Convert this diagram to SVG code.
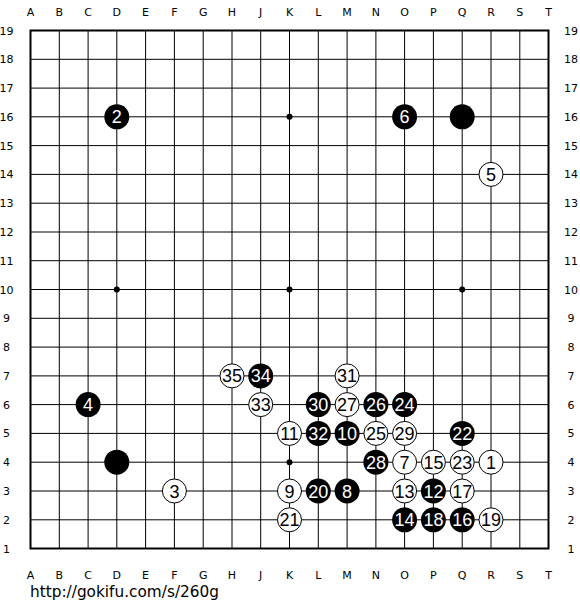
<svg xmlns="http://www.w3.org/2000/svg" width="580" height="610" viewBox="0 0 580 610">
<style>
.ln{stroke:#000;stroke-width:1;fill:none}
.bd{stroke:#000;stroke-width:2;fill:none}
.lbl{font-family:"DejaVu Sans","Liberation Sans",sans-serif;font-size:11px;fill:#000;text-anchor:middle}
.b{fill:#000}
.w{fill:#fff;stroke:#000;stroke-width:1}
.nb{font-family:"Liberation Sans",Arial,sans-serif;font-size:18px;fill:#fff;text-anchor:middle}
.nw{font-family:"Liberation Sans",Arial,sans-serif;font-size:18px;fill:#000;text-anchor:middle}
.url{font-family:"DejaVu Sans","Liberation Sans",sans-serif;font-size:15px;fill:#000}
</style>
<rect width="580" height="610" fill="#fff"/>
<g id="grid">
<path class="ln" d="M30.5 59.3H548.5M30.5 88.1H548.5M30.5 116.8H548.5M30.5 145.6H548.5M30.5 174.4H548.5M30.5 203.2H548.5M30.5 232H548.5M30.5 260.7H548.5M30.5 289.5H548.5M30.5 318.3H548.5M30.5 347.1H548.5M30.5 375.9H548.5M30.5 404.6H548.5M30.5 433.4H548.5M30.5 462.2H548.5M30.5 491H548.5M30.5 519.8H548.5"/>
<path class="ln" d="M59.3 30.5V548.5M88.1 30.5V548.5M116.8 30.5V548.5M145.6 30.5V548.5M174.4 30.5V548.5M203.2 30.5V548.5M232 30.5V548.5M260.7 30.5V548.5M289.5 30.5V548.5M318.3 30.5V548.5M347.1 30.5V548.5M375.9 30.5V548.5M404.6 30.5V548.5M433.4 30.5V548.5M462.2 30.5V548.5M491 30.5V548.5M519.8 30.5V548.5"/>
<rect class="bd" x="30.5" y="30.5" width="518" height="518"/>
<g fill="#000">
<circle cx="289.5" cy="116.8" r="3"/>
<circle cx="116.8" cy="289.5" r="3"/>
<circle cx="289.5" cy="289.5" r="3"/>
<circle cx="462.2" cy="289.5" r="3"/>
<circle cx="289.5" cy="462.2" r="3"/>
</g>
</g>
<g id="labels">
<text class="lbl" x="30.5" y="16">A</text><text class="lbl" x="59.3" y="16">B</text><text class="lbl" x="88.1" y="16">C</text><text class="lbl" x="116.8" y="16">D</text><text class="lbl" x="145.6" y="16">E</text><text class="lbl" x="174.4" y="16">F</text><text class="lbl" x="203.2" y="16">G</text><text class="lbl" x="232" y="16">H</text><text class="lbl" x="260.7" y="16">J</text><text class="lbl" x="289.5" y="16">K</text><text class="lbl" x="318.3" y="16">L</text><text class="lbl" x="347.1" y="16">M</text><text class="lbl" x="375.9" y="16">N</text><text class="lbl" x="404.6" y="16">O</text><text class="lbl" x="433.4" y="16">P</text><text class="lbl" x="462.2" y="16">Q</text><text class="lbl" x="491" y="16">R</text><text class="lbl" x="519.8" y="16">S</text><text class="lbl" x="548.5" y="16">T</text>
<text class="lbl" x="30.5" y="579">A</text><text class="lbl" x="59.3" y="579">B</text><text class="lbl" x="88.1" y="579">C</text><text class="lbl" x="116.8" y="579">D</text><text class="lbl" x="145.6" y="579">E</text><text class="lbl" x="174.4" y="579">F</text><text class="lbl" x="203.2" y="579">G</text><text class="lbl" x="232" y="579">H</text><text class="lbl" x="260.7" y="579">J</text><text class="lbl" x="289.5" y="579">K</text><text class="lbl" x="318.3" y="579">L</text><text class="lbl" x="347.1" y="579">M</text><text class="lbl" x="375.9" y="579">N</text><text class="lbl" x="404.6" y="579">O</text><text class="lbl" x="433.4" y="579">P</text><text class="lbl" x="462.2" y="579">Q</text><text class="lbl" x="491" y="579">R</text><text class="lbl" x="519.8" y="579">S</text><text class="lbl" x="548.5" y="579">T</text>
<text class="lbl" x="6.5" y="34.5">19</text><text class="lbl" x="6.5" y="63.3">18</text><text class="lbl" x="6.5" y="92.1">17</text><text class="lbl" x="6.5" y="120.8">16</text><text class="lbl" x="6.5" y="149.6">15</text><text class="lbl" x="6.5" y="178.4">14</text><text class="lbl" x="6.5" y="207.2">13</text><text class="lbl" x="6.5" y="236">12</text><text class="lbl" x="6.5" y="264.7">11</text><text class="lbl" x="6.5" y="293.5">10</text><text class="lbl" x="6.5" y="322.3">9</text><text class="lbl" x="6.5" y="351.1">8</text><text class="lbl" x="6.5" y="379.9">7</text><text class="lbl" x="6.5" y="408.6">6</text><text class="lbl" x="6.5" y="437.4">5</text><text class="lbl" x="6.5" y="466.2">4</text><text class="lbl" x="6.5" y="495">3</text><text class="lbl" x="6.5" y="523.8">2</text><text class="lbl" x="6.5" y="552.5">1</text>
<text class="lbl" x="571" y="34.5">19</text><text class="lbl" x="571" y="63.3">18</text><text class="lbl" x="571" y="92.1">17</text><text class="lbl" x="571" y="120.8">16</text><text class="lbl" x="571" y="149.6">15</text><text class="lbl" x="571" y="178.4">14</text><text class="lbl" x="571" y="207.2">13</text><text class="lbl" x="571" y="236">12</text><text class="lbl" x="571" y="264.7">11</text><text class="lbl" x="571" y="293.5">10</text><text class="lbl" x="571" y="322.3">9</text><text class="lbl" x="571" y="351.1">8</text><text class="lbl" x="571" y="379.9">7</text><text class="lbl" x="571" y="408.6">6</text><text class="lbl" x="571" y="437.4">5</text><text class="lbl" x="571" y="466.2">4</text><text class="lbl" x="571" y="495">3</text><text class="lbl" x="571" y="523.8">2</text><text class="lbl" x="571" y="552.5">1</text>
</g>
<g id="stones">
<g id="D16"><circle class="b" cx="116.8" cy="116.8" r="12.5"/><text class="nb" x="116.8" y="123.3">2</text></g>
<g id="O16"><circle class="b" cx="404.6" cy="116.8" r="12.5"/><text class="nb" x="404.6" y="123.3">6</text></g>
<g id="Q16"><circle class="b" cx="462.2" cy="116.8" r="12.5"/></g>
<g id="R14"><circle class="w" cx="491" cy="174.4" r="12"/><text class="nw" x="491" y="180.9">5</text></g>
<g id="C6"><circle class="b" cx="88.1" cy="404.6" r="12.5"/><text class="nb" x="88.1" y="411.1">4</text></g>
<g id="D4"><circle class="b" cx="116.8" cy="462.2" r="12.5"/></g>
<g id="F3"><circle class="w" cx="174.4" cy="491" r="12"/><text class="nw" x="174.4" y="497.5">3</text></g>
<g id="H7"><circle class="w" cx="232" cy="375.9" r="12"/><text class="nw" x="232" y="382.4">35</text></g>
<g id="J7"><circle class="b" cx="260.7" cy="375.9" r="12.5"/><text class="nb" x="260.7" y="382.4">34</text></g>
<g id="M7"><circle class="w" cx="347.1" cy="375.9" r="12"/><text class="nw" x="347.1" y="382.4">31</text></g>
<g id="J6"><circle class="w" cx="260.7" cy="404.6" r="12"/><text class="nw" x="260.7" y="411.1">33</text></g>
<g id="L6"><circle class="b" cx="318.3" cy="404.6" r="12.5"/><text class="nb" x="318.3" y="411.1">30</text></g>
<g id="M6"><circle class="w" cx="347.1" cy="404.6" r="12"/><text class="nw" x="347.1" y="411.1">27</text></g>
<g id="N6"><circle class="b" cx="375.9" cy="404.6" r="12.5"/><text class="nb" x="375.9" y="411.1">26</text></g>
<g id="O6"><circle class="b" cx="404.6" cy="404.6" r="12.5"/><text class="nb" x="404.6" y="411.1">24</text></g>
<g id="K5"><circle class="w" cx="289.5" cy="433.4" r="12"/><text class="nw" x="289.5" y="439.9">11</text></g>
<g id="L5"><circle class="b" cx="318.3" cy="433.4" r="12.5"/><text class="nb" x="318.3" y="439.9">32</text></g>
<g id="M5"><circle class="b" cx="347.1" cy="433.4" r="12.5"/><text class="nb" x="347.1" y="439.9">10</text></g>
<g id="N5"><circle class="w" cx="375.9" cy="433.4" r="12"/><text class="nw" x="375.9" y="439.9">25</text></g>
<g id="O5"><circle class="w" cx="404.6" cy="433.4" r="12"/><text class="nw" x="404.6" y="439.9">29</text></g>
<g id="Q5"><circle class="b" cx="462.2" cy="433.4" r="12.5"/><text class="nb" x="462.2" y="439.9">22</text></g>
<g id="N4"><circle class="b" cx="375.9" cy="462.2" r="12.5"/><text class="nb" x="375.9" y="468.7">28</text></g>
<g id="O4"><circle class="w" cx="404.6" cy="462.2" r="12"/><text class="nw" x="404.6" y="468.7">7</text></g>
<g id="P4"><circle class="w" cx="433.4" cy="462.2" r="12"/><text class="nw" x="433.4" y="468.7">15</text></g>
<g id="Q4"><circle class="w" cx="462.2" cy="462.2" r="12"/><text class="nw" x="462.2" y="468.7">23</text></g>
<g id="R4"><circle class="w" cx="491" cy="462.2" r="12"/><text class="nw" x="491" y="468.7">1</text></g>
<g id="K3"><circle class="w" cx="289.5" cy="491" r="12"/><text class="nw" x="289.5" y="497.5">9</text></g>
<g id="L3"><circle class="b" cx="318.3" cy="491" r="12.5"/><text class="nb" x="318.3" y="497.5">20</text></g>
<g id="M3"><circle class="b" cx="347.1" cy="491" r="12.5"/><text class="nb" x="347.1" y="497.5">8</text></g>
<g id="O3"><circle class="w" cx="404.6" cy="491" r="12"/><text class="nw" x="404.6" y="497.5">13</text></g>
<g id="P3"><circle class="b" cx="433.4" cy="491" r="12.5"/><text class="nb" x="433.4" y="497.5">12</text></g>
<g id="Q3"><circle class="w" cx="462.2" cy="491" r="12"/><text class="nw" x="462.2" y="497.5">17</text></g>
<g id="K2"><circle class="w" cx="289.5" cy="519.8" r="12"/><text class="nw" x="289.5" y="526.3">21</text></g>
<g id="O2"><circle class="b" cx="404.6" cy="519.8" r="12.5"/><text class="nb" x="404.6" y="526.3">14</text></g>
<g id="P2"><circle class="b" cx="433.4" cy="519.8" r="12.5"/><text class="nb" x="433.4" y="526.3">18</text></g>
<g id="Q2"><circle class="b" cx="462.2" cy="519.8" r="12.5"/><text class="nb" x="462.2" y="526.3">16</text></g>
<g id="R2"><circle class="w" cx="491" cy="519.8" r="12"/><text class="nw" x="491" y="526.3">19</text></g>
</g>
<text class="url" x="30" y="597" textLength="189" lengthAdjust="spacingAndGlyphs">http://gokifu.com/s/260g</text>
</svg>
